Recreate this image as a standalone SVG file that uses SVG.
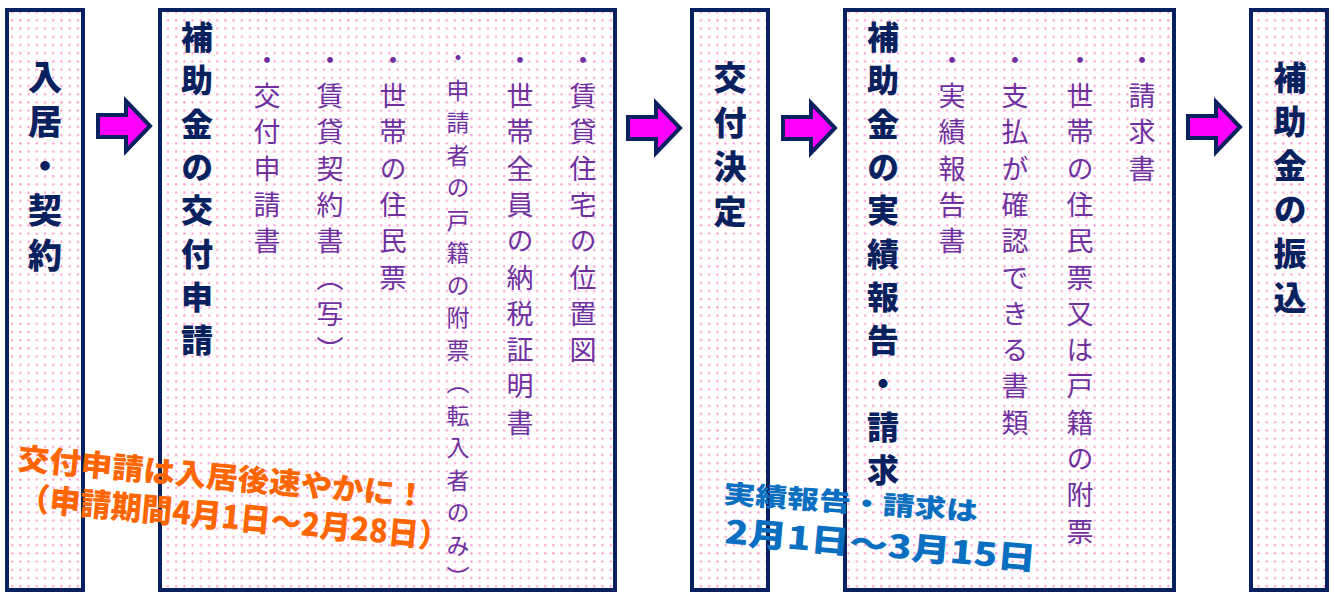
<svg xmlns="http://www.w3.org/2000/svg" width="1335" height="592" viewBox="0 0 1335 592">
<style>
.box{fill:url(#dots);stroke:#0a2160;stroke-width:4}
.ttl{font-family:"Noto Sans CJK JP","Noto Sans",sans-serif;font-weight:900;fill:#0a2160;writing-mode:vertical-rl}
.itm{font-family:"Noto Sans CJK JP","Noto Sans",sans-serif;font-weight:400;fill:#7030a0;writing-mode:vertical-rl;font-size:27px;letter-spacing:9.3px}
.sm{font-size:23px;letter-spacing:9.5px}
.arr{fill:#ff00ff;stroke:#0a2160;stroke-width:4;stroke-linejoin:miter}
.or{font-family:"Noto Sans CJK JP",sans-serif;font-weight:900;fill:#ff6600}
.bl{font-family:"Noto Sans CJK JP",sans-serif;font-weight:900;fill:#0a6fc0}
</style>
<defs>
<pattern id="dots" patternUnits="userSpaceOnUse" width="8.2" height="8.2">
<rect width="8.2" height="8.2" fill="#ffffff"/>
<rect x="3" y="3" width="2" height="2" fill="#ff8fd0"/>
</pattern>
<polygon id="arrow" class="arr" points="2,17 30,17 30,3 54,28 30,53 30,39 2,39"/>
</defs>
<g id="node-nyukyo">
<rect class="box" x="7" y="10" width="76" height="580"/>
<text class="ttl" x="45" y="60" style="font-size:34px;letter-spacing:10.5px">入居・契約</text>
</g>
<g id="node-koufushinsei">
<rect class="box" x="160" y="10" width="455" height="580"/>
<text class="ttl" x="197" y="21" style="font-size:32px;letter-spacing:11.3px">補助金の交付申請</text>
<text class="itm" x="583" y="46">・賃貸住宅の位置図</text>
<text class="itm" x="520" y="46">・世帯全員の納税証明書</text>
<text class="itm sm" x="458" y="46">・申請者の戸籍の附票（転入者のみ）</text>
<text class="itm" x="393" y="46">・世帯の住民票</text>
<text class="itm" x="330" y="46">・賃貸契約書（写）</text>
<text class="itm" x="267" y="46">・交付申請書</text>
</g>
<g id="node-koufukettei">
<rect class="box" x="692" y="10" width="76" height="580"/>
<text class="ttl" x="730" y="61" style="font-size:33px;letter-spacing:11.5px">交付決定</text>
</g>
<g id="node-jisseki">
<rect class="box" x="845" y="10" width="329" height="580"/>
<text class="ttl" x="883" y="21" style="font-size:32px;letter-spacing:11.3px">補助金の実績報告・請求</text>
<text class="itm" x="1142" y="46">・請求書</text>
<text class="itm" x="1080" y="46">・世帯の住民票又は戸籍の附票</text>
<text class="itm" x="1015" y="46">・支払が確認できる書類</text>
<text class="itm" x="952" y="46">・実績報告書</text>
</g>
<g id="node-furikomi">
<rect class="box" x="1251" y="10" width="76" height="580"/>
<text class="ttl" x="1290" y="61" style="font-size:33px;letter-spacing:11px">補助金の振込</text>
</g>
<g id="connectors">
<use href="#arrow" x="96" y="98"/>
<use href="#arrow" x="626" y="100"/>
<use href="#arrow" x="781" y="100"/>
<use href="#arrow" x="1186" y="99"/>
</g>
<g id="notes">
<text class="or" x="17" y="469" font-size="30" textLength="410" lengthAdjust="spacingAndGlyphs" transform="rotate(5.3 17 469)">交付申請は入居後速やかに！</text>
<text class="or" x="18" y="509" font-size="32" textLength="432" lengthAdjust="spacingAndGlyphs" transform="rotate(5.3 18 509)">（申請期間4月1日～2月28日）</text>
<text class="bl" x="723" y="503" font-size="26" textLength="255" lengthAdjust="spacingAndGlyphs" transform="rotate(4 723 503)">実績報告・請求は</text>
<text class="bl" x="724" y="543" font-size="32" textLength="312" lengthAdjust="spacingAndGlyphs" transform="rotate(5 724 543)">2月1日～3月15日</text>
</g>
</svg>
